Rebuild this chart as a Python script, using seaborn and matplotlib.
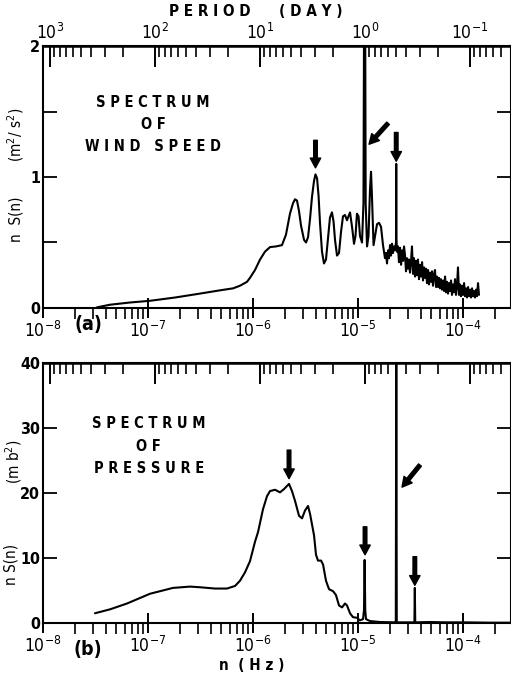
import numpy as np
import matplotlib
matplotlib.use("Agg")
import matplotlib.pyplot as plt
import seaborn as sns

# ---- data (log10 of frequency in Hz, n S(n)) ----
wind_logn = [-7.486, -7.362, -7.171, -6.981, -6.743, -6.505, -6.314, -6.190, -6.124, -6.057,
             -6.029, -5.981, -5.933, -5.886, -5.838, -5.781, -5.724, -5.686, -5.648, -5.619,
             -5.600, -5.581, -5.562, -5.543, -5.514, -5.495, -5.476, -5.457, -5.438, -5.419,
             -5.405, -5.390, -5.376, -5.362, -5.343, -5.324, -5.305, -5.286, -5.267, -5.248,
             -5.233, -5.219, -5.200, -5.181, -5.162, -5.143, -5.124, -5.105, -5.090, -5.076,
             -5.057, -5.038, -5.024, -5.010, -4.995, -4.981, -4.962, -4.948, -4.942, -4.937,
             -4.932, -4.927, -4.914, -4.900, -4.886, -4.876, -4.867, -4.852, -4.838, -4.819,
             -4.800, -4.781, -4.762, -4.743,
             -4.733, -4.724, -4.714, -4.705, -4.695, -4.686, -4.676, -4.667, -4.657, -4.648,
             -4.638, -4.636, -4.634,
             -4.629, -4.619, -4.610, -4.600, -4.590, -4.581, -4.571, -4.562, -4.552, -4.543,
             -4.533, -4.524, -4.514, -4.505, -4.495, -4.486, -4.476, -4.467, -4.457, -4.448,
             -4.438, -4.429, -4.419, -4.410, -4.400, -4.390, -4.381, -4.371, -4.362, -4.352,
             -4.343, -4.333, -4.324, -4.314, -4.305, -4.295, -4.286, -4.276, -4.267, -4.257,
             -4.248, -4.238, -4.229, -4.219, -4.210, -4.200, -4.190, -4.181, -4.171, -4.162,
             -4.152, -4.143, -4.133, -4.124, -4.114, -4.105, -4.095, -4.086, -4.076, -4.067,
             -4.057, -4.048, -4.038, -4.029, -4.019, -4.010, -4.000, -3.990, -3.981, -3.971,
             -3.962, -3.952, -3.943, -3.933, -3.924, -3.914, -3.905, -3.895, -3.886, -3.876,
             -3.867, -3.857, -3.848]
wind_val = [0.005, 0.025, 0.042, 0.055, 0.08, 0.11, 0.135, 0.15, 0.17, 0.20,
            0.23, 0.29, 0.37, 0.43, 0.465, 0.47, 0.48, 0.56, 0.72, 0.80,
            0.83, 0.82, 0.74, 0.63, 0.52, 0.50, 0.54, 0.68, 0.85, 0.97,
            1.02, 0.99, 0.86, 0.65, 0.43, 0.34, 0.37, 0.53, 0.69, 0.73,
            0.66, 0.52, 0.40, 0.42, 0.58, 0.70, 0.71, 0.67, 0.70, 0.73,
            0.62, 0.49, 0.55, 0.72, 0.70, 0.55, 0.50, 0.80, 2.3, 2.3,
            2.3, 0.80, 0.47, 0.55, 0.90, 1.04, 0.85, 0.48, 0.55, 0.64,
            0.65, 0.62, 0.48, 0.38,
            0.42, 0.34, 0.44, 0.38, 0.48, 0.40, 0.49, 0.42, 0.47, 0.44,
            0.50, 1.10, 0.52,
            0.43, 0.47, 0.35, 0.46, 0.33, 0.44, 0.36, 0.47, 0.40, 0.28,
            0.38, 0.30, 0.37, 0.27, 0.36, 0.47, 0.26, 0.38, 0.24, 0.36,
            0.25, 0.37, 0.22, 0.33, 0.24, 0.35, 0.21, 0.31, 0.23, 0.30,
            0.19, 0.29, 0.18, 0.27, 0.20, 0.28, 0.17, 0.25, 0.29, 0.16,
            0.24, 0.16, 0.23, 0.15, 0.22, 0.14, 0.21, 0.13, 0.24, 0.12,
            0.20, 0.11, 0.19, 0.13, 0.21, 0.10, 0.18, 0.12, 0.22, 0.10,
            0.17, 0.31, 0.10, 0.18, 0.09, 0.17, 0.10, 0.19, 0.09, 0.15,
            0.08, 0.16, 0.09, 0.14, 0.08, 0.15, 0.09, 0.13, 0.08, 0.14,
            0.09, 0.19, 0.10]

pres_logn = [-7.505, -7.362, -7.200, -6.981, -6.762, -6.600, -6.505, -6.362, -6.248, -6.171,
             -6.124, -6.076, -6.029, -5.981, -5.952, -5.905, -5.867, -5.838, -5.790, -5.743,
             -5.705, -5.657, -5.629, -5.600, -5.562, -5.533, -5.505, -5.476, -5.457, -5.419,
             -5.400, -5.381, -5.352, -5.333, -5.305, -5.276, -5.238, -5.210, -5.181, -5.152,
             -5.124, -5.105, -5.076, -5.048, -5.010, -4.981, -4.952, -4.943, -4.937, -4.931,
             -4.924, -4.886, -4.790, -4.648, -4.640, -4.6355, -4.631, -4.552, -4.463, -4.459,
             -4.455, -4.314, -4.171, -3.981, -3.743, -3.543]
pres_val = [1.5, 2.1, 3.0, 4.5, 5.4, 5.6, 5.5, 5.3, 5.3, 5.7,
            6.5, 7.8, 9.5, 12.5, 14.0, 17.5, 19.5, 20.3, 20.5, 20.1,
            20.6, 21.4, 20.3, 18.8, 16.5, 16.1, 17.3, 18.0, 16.8, 13.5,
            10.5, 9.6, 9.6, 9.0, 6.5, 5.2, 4.9, 4.3, 2.7, 2.4,
            3.0, 2.7, 1.5, 0.9, 0.8, 0.4, 0.6, 2.0, 9.7, 2.0,
            0.6, 0.3, 0.15, 0.1, 0.1, 45.0, 0.1, 0.1, 0.1, 5.4,
            0.1, 0.15, 0.1, 0.1, 0.05, 0.05]

period_ticks = [1e3, 1e2, 1e1, 1e0, 1e-1]

# arrows: (tip logn, tip value, tail logn, tail value)
wind_arrows = [(-5.405, 1.07, -5.405, 1.28),
               (-4.895, 1.25, -4.714, 1.41),
               (-4.636, 1.12, -4.636, 1.34)]
pres_arrows = [(-5.657, 22.2, -5.657, 26.6),
               (-4.933, 10.5, -4.933, 14.8),
               (-4.581, 20.9, -4.410, 24.3),
               (-4.459, 5.8, -4.459, 10.2)]

sns.set_style("ticks", {"text.color": "black", "axes.labelcolor": "black",
                        "xtick.color": "black", "ytick.color": "black",
                        "axes.edgecolor": "black"})
plt.rcParams["font.family"] = ["DejaVu Sans"]
plt.rcParams["font.stretch"] = "condensed"


def n2p(x):
    # frequency (Hz) <-> period (day)
    x = np.array(x, float)
    bad = x <= 0
    out = np.empty_like(x)
    out[bad] = np.inf
    out[~bad] = 1.0 / (86400.0 * x[~bad])
    return out


W, H = 511, 673
fig = plt.figure(figsize=(W / 100, H / 100), dpi=100)
ax_a = fig.add_axes([43 / W, 1 - 308 / H, 468 / W, 262 / H])
ax_b = fig.add_axes([43 / W, 1 - 623 / H, 468 / W, 260 / H])

panels = [
    (ax_a, wind_logn, wind_val, wind_arrows, (0, 2), [0, 1, 2], [0.5, 1.5]),
    (ax_b, pres_logn, pres_val, pres_arrows, (0, 40), [0, 10, 20, 30, 40], []),
]

for ax, logn, val, arrows, ylim, yt, ymin in panels:
    sns.lineplot(x=10 ** np.array(logn), y=val, ax=ax, estimator=None, sort=False,
                 color="black", lw=1.5)
    ax.set_xscale("log")
    ax.set_xlim(1e-8, 10 ** -3.543)
    ax.set_ylim(*ylim)
    ax.set_yticks(yt)
    ax.set_yticks(ymin, minor=True)
    ax.set_ylabel("")
    for s in ax.spines.values():
        s.set_linewidth(1.5)
    ax.tick_params(axis="x", which="major", direction="inout", length=14, width=1.4,
                   labelsize=12.5, pad=2, top=False)
    ax.tick_params(axis="x", which="minor", direction="out", length=8, width=1.2, top=False)
    ax.tick_params(axis="y", which="both", direction="in", length=10, width=1.3,
                   right=True, labelsize=11.5, pad=2)
    for t in ax.get_yticklabels():
        t.set_fontweight("bold")
    for tx, ty, sx, sy in arrows:
        ax.annotate("", xy=(10 ** tx, ty), xytext=(10 ** sx, sy),
                    arrowprops=dict(facecolor="black", edgecolor="black",
                                    width=2.6, headwidth=7.5, headlength=7, shrink=0))
    sec = ax.secondary_xaxis("top", functions=(n2p, n2p))
    sec.set_xticks(period_ticks)
    sec.spines["top"].set_linewidth(1.8)
    sec.tick_params(which="major", direction="in", length=15, width=1.4, labelsize=12.5, pad=2)
    sec.tick_params(which="minor", direction="in", length=8, width=1.2)
    if ax is ax_b:
        sec.tick_params(labeltop=False)

fig.text(256 / W, 1 - 12 / H, "P E R I O D      ( D A Y )", ha="center", va="center",
         fontsize=11, fontweight="bold")

ax_a.text(0.235, 0.70, "S P E C T R U M\nO F\nW I N D   S P E E D", transform=ax_a.transAxes,
          ha="center", va="center", fontsize=10.5, fontweight="bold", linespacing=1.6)
ax_b.text(0.226, 0.68, "S P E C T R U M\nO F\nP R E S S U R E", transform=ax_b.transAxes,
          ha="center", va="center", fontsize=10.5, fontweight="bold", linespacing=1.6)

ax_a.text(-0.058, 0.337, "n  S(n)", transform=ax_a.transAxes, rotation=90,
          ha="center", va="center", fontsize=11)
ax_a.text(-0.058, 0.663, "(m$^2$/ s$^2$)", transform=ax_a.transAxes, rotation=90,
          ha="center", va="center", fontsize=11)
ax_b.text(-0.068, 0.225, "n S(n)", transform=ax_b.transAxes, rotation=90,
          ha="center", va="center", fontsize=11)
ax_b.text(-0.062, 0.62, "(m b$^2$)", transform=ax_b.transAxes, rotation=90,
          ha="center", va="center", fontsize=11)

fig.text(88 / W, 1 - 324 / H, "(a)", ha="center", va="center", fontsize=14, fontweight="bold")
fig.text(88 / W, 1 - 650 / H, "(b)", ha="center", va="center", fontsize=14, fontweight="bold")
fig.text(252 / W, 1 - 666 / H, "n  ( H z )", ha="center", va="center", fontsize=11,
         fontweight="bold")

fig.savefig("out.png", dpi=100)
